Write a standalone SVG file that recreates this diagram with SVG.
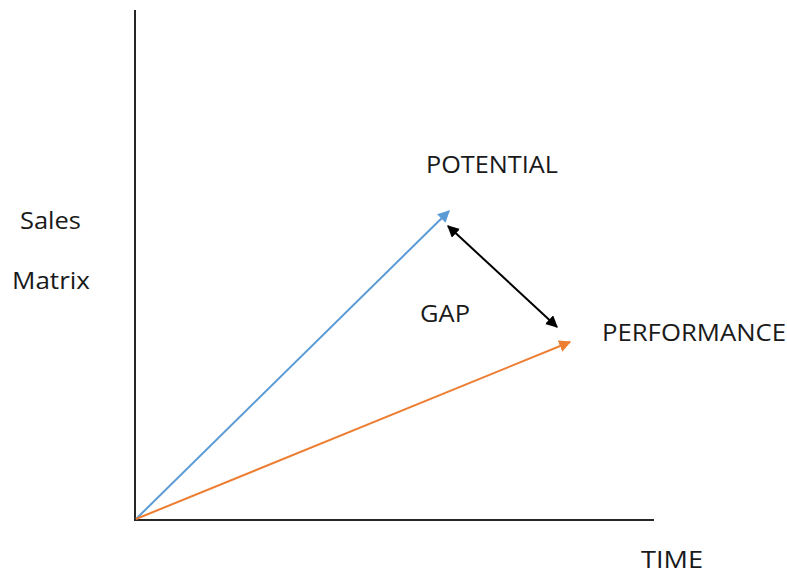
<svg xmlns="http://www.w3.org/2000/svg" width="787" height="571" viewBox="0 0 787 571">
<style>
text{font-family:"Open Sans","Liberation Sans",sans-serif;font-size:23px;fill:#1a1a1a}
.ax{stroke:#262626;stroke-width:2;fill:none}
</style>
<defs>
<marker id="mb" viewBox="0 0 10 10" refX="9" refY="5" markerWidth="6" markerHeight="6" markerUnits="strokeWidth" orient="auto"><path d="M0,0L10,5L0,10z" fill="#5b9bd5"/></marker>
<marker id="mo" viewBox="0 0 10 10" refX="9" refY="5" markerWidth="6" markerHeight="6" markerUnits="strokeWidth" orient="auto"><path d="M0,0L10,5L0,10z" fill="#ed7d31"/></marker>
<marker id="mk" viewBox="0 0 10 10" refX="9" refY="5" markerWidth="6" markerHeight="6" markerUnits="strokeWidth" orient="auto-start-reverse"><path d="M0,0L10,5L0,10z" fill="#000"/></marker>
</defs>
<rect width="787" height="571" fill="#fff"/>
<g id="axes">
<path class="ax" d="M135,10V520H654"/>
</g>
<g id="connectors">
<line x1="136" y1="519" x2="449" y2="211" stroke="#5b9bd5" stroke-width="2" marker-end="url(#mb)"/>
<line x1="136" y1="519" x2="570" y2="342" stroke="#ed7d31" stroke-width="2" marker-end="url(#mo)"/>
<line x1="448" y1="226" x2="557" y2="327" stroke="#000" stroke-width="2" marker-start="url(#mk)" marker-end="url(#mk)"/>
</g>
<g id="labels">
<text x="20" y="229" textLength="61" lengthAdjust="spacingAndGlyphs">Sales</text>
<text x="12" y="289" textLength="78" lengthAdjust="spacingAndGlyphs">Matrix</text>
<text x="426" y="173" textLength="132" lengthAdjust="spacingAndGlyphs">POTENTIAL</text>
<text x="420" y="322" textLength="50" lengthAdjust="spacingAndGlyphs">GAP</text>
<text x="602" y="341" textLength="184" lengthAdjust="spacingAndGlyphs">PERFORMANCE</text>
<text x="641" y="568" textLength="62" lengthAdjust="spacingAndGlyphs">TIME</text>
</g>
</svg>
